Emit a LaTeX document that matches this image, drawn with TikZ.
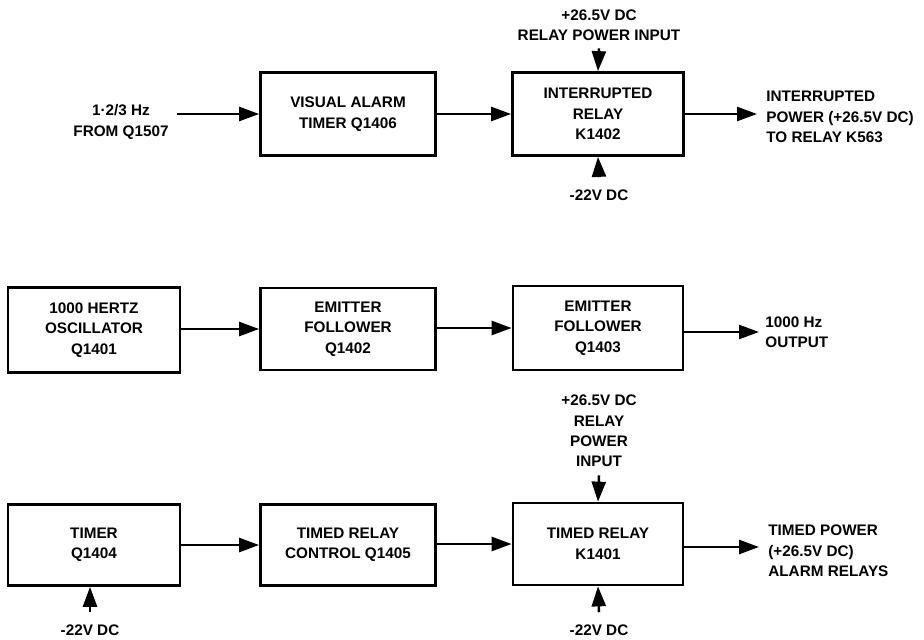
\documentclass[tikz,border=0pt]{standalone}
\usepackage{fontspec}
\setmainfont{Liberation Sans}
\usepackage{tikz}
\usetikzlibrary{arrows.meta,positioning,calc}

\begin{document}
\begin{tikzpicture}[
  x=0.2mm,y=-0.2mm,
  blk/.style={draw,line width=0.55mm,minimum width=35mm,minimum height=16.6mm,
    font=\fontsize{8.7}{11.6}\selectfont\bfseries,align=center,inner sep=0pt},
  lbl/.style={font=\fontsize{8.7}{11.6}\selectfont\bfseries,align=center,inner sep=0pt},
  olbl/.style={lbl,align=left,anchor=west},
  arr/.style={-{Triangle[length=4mm,width=2.8mm]},line width=0.5mm}
]
  \useasboundingbox (0,0) rectangle (924,639);

  % Visual alarm chain
  \node[blk] (vat) at (348,114) {VISUAL ALARM\\TIMER Q1406};
  \node[blk,minimum width=34.2mm] (irl) at (598,114) {INTERRUPTED\\RELAY\\K1402};
  \node[lbl] (in1) at (121,122) {1·2/3 Hz\\FROM Q1507};
  \node[lbl] (top1) at (599,25) {+26.5V DC\\RELAY POWER INPUT};
  \node[lbl] (bot1) at (599,195) {-22V DC};
  \node[olbl] (out1) at (766,117) {INTERRUPTED\\POWER (+26.5V DC)\\TO RELAY K563};
  \coordinate (o1) at (757,114);

  \draw[arr] ([xshift=1.6mm]in1.east |- vat.west) -- (vat.west);
  \draw[arr] (vat) -- (irl);
  \draw[arr] ([yshift=-1.5mm]top1.south) -- (irl.north);
  \draw[arr] ([yshift=2.4mm]bot1.north) -- (irl.south);
  \draw[arr] (irl.east) -- (o1);

  % Oscillator chain
  \node[blk,minimum width=34.4mm,minimum height=17mm] (osc) at (94,330) {1000 HERTZ\\OSCILLATOR\\Q1401};
  \node[blk,minimum height=16.4mm] (ef1) at (348,329) {EMITTER\\FOLLOWER\\Q1402};
  \node[blk,minimum width=34mm,minimum height=16.8mm] (ef2) at (598,328) {EMITTER\\FOLLOWER\\Q1403};
  \node[olbl] (out2) at (765,332) {1000 Hz\\OUTPUT};
  \coordinate (o2) at (759,332);

  \draw[arr] (osc.east |- ef1) -- (ef1.west);
  \draw[arr] (ef1.east |- ef2) -- (ef2.west);
  \draw[arr] (ef2.east |- o2) -- (o2);

  % Timer chain
  \node[blk,minimum width=34.4mm,minimum height=16.2mm] (tmr) at (94,545) {TIMER\\Q1404};
  \node[blk,minimum height=16.2mm] (trc) at (348,545) {TIMED RELAY\\CONTROL Q1405};
  \node[blk,minimum width=34mm,minimum height=16.4mm] (trl) at (598,544) {TIMED RELAY\\K1401};
  \node[lbl] (top3) at (599,431) {+26.5V DC\\RELAY\\POWER\\INPUT};
  \node[lbl] (bot3) at (599,630) {-22V DC};
  \node[lbl] (tbot) at (90,630) {-22V DC};
  \node[olbl] (out3) at (768,551) {TIMED POWER\\(+26.5V DC)\\ALARM RELAYS};
  \coordinate (o3) at (759,547);

  \draw[arr] (tmr.east |- trc) -- (trc.west);
  \draw[arr] (trc.east |- trl) -- (trl.west);
  \draw[arr] ([yshift=-1.6mm]top3.south) -- (trl.north);
  \draw[arr] ([yshift=2.4mm]bot3.north) -- (trl.south);
  \draw[arr] ([yshift=2.4mm]tbot.north) -- (tbot.north |- tmr.south);
  \draw[arr] (trl.east |- o3) -- (o3);
\end{tikzpicture}
\end{document}
